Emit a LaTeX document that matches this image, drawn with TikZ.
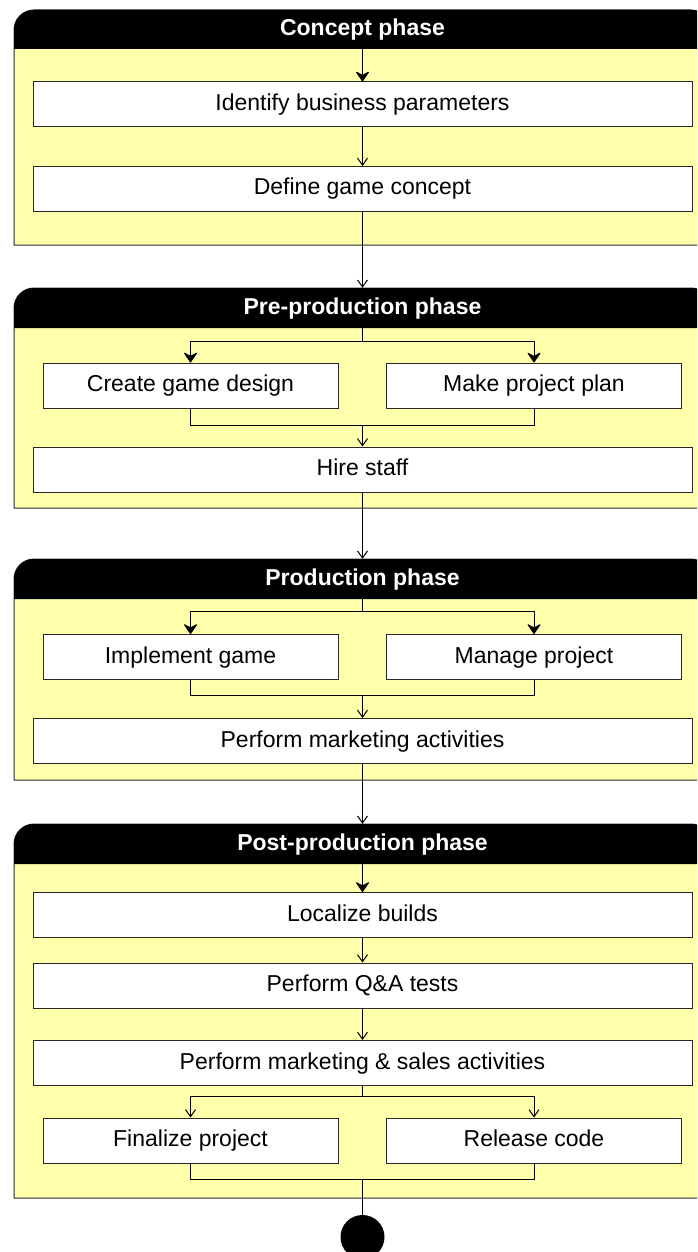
\documentclass[tikz,border=0pt]{standalone}
\usepackage{fontspec}
\setmainfont{Liberation Sans}
\usetikzlibrary{arrows.meta}
\definecolor{phasefill}{RGB}{255,255,172}
\definecolor{edgegray}{RGB}{40,40,40}
\begin{document}
\begin{tikzpicture}[x=1pt,y=1pt,
  every node/.style={inner sep=0pt,font=\fontsize{23}{27}\selectfont},
  act/.style={draw=edgegray,fill=white,line width=1pt,minimum height=45,text height=16.5pt,text depth=4.5pt},
  wideact/.style={act,minimum width=659},
  halfact/.style={act,minimum width=295},
  headtxt/.style={text=white,font=\fontsize{23}{27}\selectfont\bfseries,minimum height=39,text height=16.5pt,text depth=4.5pt},
  phasebox/.style={draw=edgegray,fill=phasefill,line width=1pt},
  conn/.style={line width=1pt},
  flow/.style={conn,-{Straight Barb[length=7pt,width=10pt,line width=1pt]}},
  entry/.style={conn,-{Stealth[length=11pt,width=15pt,inset=4pt,round]}}]
\clip (0,0) rectangle (697,-1252);
\draw [phasebox] (14,-245) -- (14,-30) arc [start angle=180,end angle=90,radius=20] -- (691,-10) arc [start angle=90,end angle=0,radius=20] -- (711,-245) -- cycle;
\fill [black] (14,-49) -- (14,-30) arc [start angle=180,end angle=90,radius=20] -- (691,-10) arc [start angle=90,end angle=0,radius=20] -- (711,-49) -- cycle;
\node [headtxt] (h1) at (362.5,-29.5) {Concept phase};
\node [wideact] (a1) at (362.5,-104.5) {Identify business parameters};
\node [wideact] (a2) at (362.5,-189) {Define game concept};
\draw [phasebox] (14,-508) -- (14,-308) arc [start angle=180,end angle=90,radius=20] -- (691,-288) arc [start angle=90,end angle=0,radius=20] -- (711,-508) -- cycle;
\fill [black] (14,-328) -- (14,-308) arc [start angle=180,end angle=90,radius=20] -- (691,-288) arc [start angle=90,end angle=0,radius=20] -- (711,-328) -- cycle;
\node [headtxt,minimum height=40] (h2) at (362.5,-308) {Pre-production phase};
\node [halfact] (b1) at (190.5,-385.5) {Create game design};
\node [halfact] (b2) at (534,-385.5) {Make project plan};
\node [wideact] (b3) at (362.5,-469.5) {Hire staff};
\coordinate (s2) at (362.5,-341);
\coordinate (j2) at (362.5,-425);
\draw [phasebox] (14,-780) -- (14,-579) arc [start angle=180,end angle=90,radius=20] -- (691,-559) arc [start angle=90,end angle=0,radius=20] -- (711,-780) -- cycle;
\fill [black] (14,-599) -- (14,-579) arc [start angle=180,end angle=90,radius=20] -- (691,-559) arc [start angle=90,end angle=0,radius=20] -- (711,-599) -- cycle;
\node [headtxt,minimum height=40] (h3) at (362.5,-579) {Production phase};
\node [halfact] (c1) at (190.5,-657) {Implement game};
\node [halfact] (c2) at (534,-657) {Manage project};
\node [wideact] (c3) at (362.5,-741) {Perform marketing activities};
\coordinate (s3) at (362.5,-611);
\coordinate (j3) at (362.5,-695);
\draw [phasebox] (14,-1198) -- (14,-844) arc [start angle=180,end angle=90,radius=20] -- (691,-824) arc [start angle=90,end angle=0,radius=20] -- (711,-1198) -- cycle;
\fill [black] (14,-864) -- (14,-844) arc [start angle=180,end angle=90,radius=20] -- (691,-824) arc [start angle=90,end angle=0,radius=20] -- (711,-864) -- cycle;
\node [headtxt,minimum height=40] (h4) at (362.5,-844) {Post-production phase};
\node [wideact] (d1) at (362.5,-915) {Localize builds};
\node [wideact] (d2) at (362.5,-985.5) {Perform Q\&A tests};
\node [wideact] (d3) at (362.5,-1063) {Perform marketing \& sales activities};
\node [halfact] (d4) at (190.5,-1140.5) {Finalize project};
\node [halfact] (d5) at (534,-1140.5) {Release code};
\coordinate (s4) at (362.5,-1096);
\coordinate (j4) at (362.5,-1179);
\node [circle,fill=black,minimum size=44] (fin) at (362.5,-1237) {};
\draw [entry] (h1.south) -- (a1.north);
\draw [flow] (a1.south) -- (a2.north);
\draw [flow] (a2.south) -- (h2.north);
\draw [conn] (h2.south) -- (s2);
\draw [entry] (s2) -| (b1.north);
\draw [entry] (s2) -| (b2.north);
\draw [conn] (b1.south) |- (j2);
\draw [conn] (b2.south) |- (j2);
\draw [flow] (j2) -- (b3.north);
\draw [flow] (b3.south) -- (h3.north);
\draw [conn] (h3.south) -- (s3);
\draw [entry] (s3) -| (c1.north);
\draw [entry] (s3) -| (c2.north);
\draw [conn] (c1.south) |- (j3);
\draw [conn] (c2.south) |- (j3);
\draw [flow] (j3) -- (c3.north);
\draw [flow] (c3.south) -- (h4.north);
\draw [entry] (h4.south) -- (d1.north);
\draw [flow] (d1.south) -- (d2.north);
\draw [flow] (d2.south) -- (d3.north);
\draw [conn] (d3.south) -- (s4);
\draw [flow] (s4) -| (d4.north);
\draw [flow] (s4) -| (d5.north);
\draw [conn] (d4.south) |- (j4);
\draw [conn] (d5.south) |- (j4);
\draw [conn] (j4) -- (fin.north);
\end{tikzpicture}
\end{document}
